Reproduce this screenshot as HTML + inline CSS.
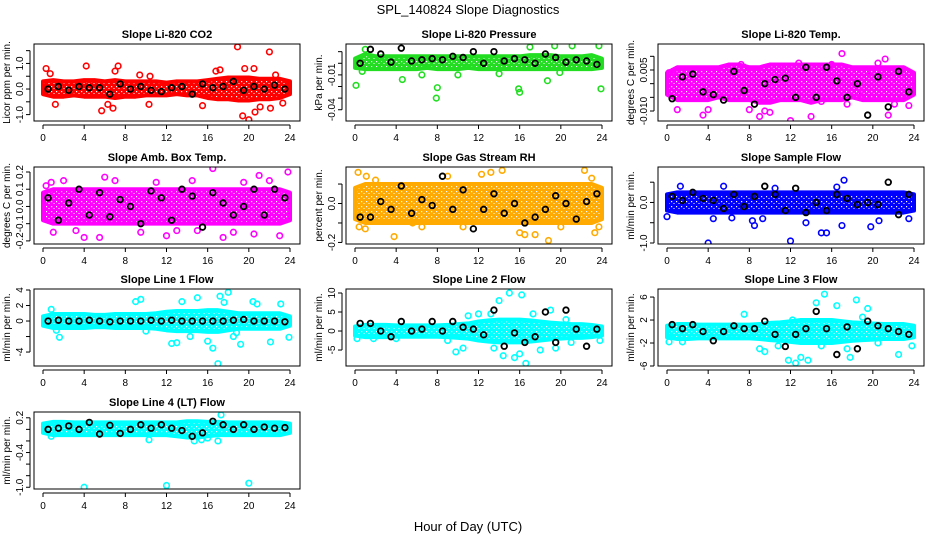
<!DOCTYPE html>
<html><head><meta charset="utf-8"><style>
html,body{margin:0;padding:0;background:#fff}
svg{display:block;font-family:"Liberation Sans",sans-serif}
</style></head><body>
<svg id="chart" width="936" height="540" viewBox="0 0 936 540" xmlns="http://www.w3.org/2000/svg">
<defs id="defs"></defs>
<text x="468" y="14" font-size="13" text-anchor="middle">SPL_140824  Slope Diagnostics</text>
<text x="468" y="531" font-size="13" text-anchor="middle">Hour of Day (UTC)</text>
</svg>
<script>
const hours=[0,1,2,3,4,5,6,7,8,9,10,11,12,13,14,15,16,17,18,19,20,21,22,23,24];
const blackX=[0.5,1.5,2.5,3.5,4.5,5.5,6.5,7.5,8.5,9.5,10.5,11.5,12.5,13.5,14.5,15.5,16.5,17.5,18.5,19.5,20.5,21.5,22.5,23.5];
const xTicks=[0,4,8,12,16,20,24];

const titles=["Slope Li-820 CO2","Slope Li-820 Pressure","Slope Li-820 Temp.","Slope Amb. Box Temp.","Slope Gas Stream RH","Slope Sample Flow","Slope Line 1 Flow","Slope Line 2 Flow","Slope Line 3 Flow","Slope Line 4 (LT) Flow"];
const yTitles=["Licor ppm per min.","kPa per min.","degrees C per min.","degrees C per min.","percent per min.","ml/min per min.","ml/min per min.","ml/min per min.","ml/min per min.","ml/min per min."];
const yRanges=[[-1.25,1.76],[-0.0497,0.0166],[-0.01365,0.0145],[-0.218,0.229],[-0.208,0.1875],[-1.025,0.875],[-5.8,4.13],[-9.2,11.05],[-6.0,7.4],[-1.03,0.30]];
const yTickVals=[[-1,-0.5,0,0.5,1,1.5],[-0.04,-0.03,-0.02,-0.01,0,0.01],[-0.01,-0.005,0,0.005,0.01],[-0.2,-0.1,0,0.1,0.2],[-0.2,-0.1,0,0.1],[-1,-0.5,0,0.5],[-4,-2,0,2,4],[-5,0,5,10],[-6,-2,2,6],[-1,-0.8,-0.6,-0.4,-0.2,0,0.2]];
const yTickLabels=[["-1.0","","0.0","","1.0",""],["-0.04","","","-0.01","",""],["-0.010","","","0.005",""],["-0.2","-0.1","0.0","0.1","0.2"],["-0.2","","0.0",""],["-1.0","","0.0",""],["-4","","0","2","4"],["-5","0","5","10"],["-6","-2","2","6"],["-1.0","","","-0.4","","","0.2"]];
const colors=["#ff0000","#22dd22","#ff00ff","#ff00ff","#ffaa00","#0000ff","#00ffff","#00ffff","#00ffff","#00ffff"];

const bandLo=[
[-0.2,-0.3,-0.3,-0.25,-0.3,-0.3,-0.3,-0.35,-0.3,-0.3,-0.25,-0.25,-0.25,-0.2,-0.25,-0.25,-0.35,-0.4,-0.4,-0.45,-0.45,-0.4,-0.4,-0.35,-0.2],
[-0.004,-0.005,-0.005,-0.005,-0.005,-0.005,-0.005,-0.004,-0.005,-0.005,-0.005,-0.004,-0.005,-0.005,-0.005,-0.005,-0.005,-0.005,-0.005,-0.005,-0.005,-0.005,-0.005,-0.005,-0.004],
[-0.004,-0.006,-0.006,-0.006,-0.006,-0.005,-0.006,-0.006,-0.006,-0.007,-0.007,-0.006,-0.006,-0.006,-0.007,-0.006,-0.006,-0.006,-0.005,-0.006,-0.006,-0.006,-0.006,-0.006,-0.004],
[-0.08,-0.1,-0.1,-0.1,-0.1,-0.1,-0.1,-0.1,-0.1,-0.1,-0.1,-0.1,-0.1,-0.1,-0.1,-0.1,-0.1,-0.1,-0.1,-0.1,-0.1,-0.1,-0.1,-0.1,-0.08],
[-0.08,-0.1,-0.1,-0.1,-0.1,-0.1,-0.1,-0.1,-0.1,-0.1,-0.1,-0.1,-0.1,-0.1,-0.1,-0.1,-0.1,-0.1,-0.1,-0.1,-0.1,-0.1,-0.1,-0.1,-0.08],
[-0.2,-0.25,-0.25,-0.25,-0.25,-0.25,-0.25,-0.25,-0.25,-0.25,-0.25,-0.25,-0.25,-0.25,-0.25,-0.25,-0.25,-0.25,-0.25,-0.25,-0.25,-0.25,-0.25,-0.25,-0.2],
[-0.6,-0.9,-0.9,-0.9,-0.9,-0.8,-0.8,-0.9,-0.9,-0.9,-0.9,-1.0,-1.2,-1.3,-1.3,-1.3,-1.4,-1.4,-1.2,-1.0,-1.0,-1.0,-1.0,-1.0,-0.6],
[-1.2,-1.6,-1.6,-1.6,-1.5,-1.5,-1.5,-1.5,-1.5,-1.6,-1.8,-2.0,-2.5,-2.8,-3.0,-3.0,-3.0,-2.8,-2.5,-2.2,-2.0,-1.8,-1.8,-1.6,-1.2],
[-1.0,-1.3,-1.3,-1.2,-1.2,-1.2,-1.2,-1.2,-1.2,-1.3,-1.5,-1.6,-1.8,-2.0,-2.0,-2.0,-2.0,-1.8,-1.6,-1.5,-1.4,-1.3,-1.3,-1.3,-1.0],
[-0.06,-0.1,-0.1,-0.1,-0.1,-0.1,-0.1,-0.1,-0.1,-0.1,-0.1,-0.1,-0.1,-0.12,-0.14,-0.14,-0.12,-0.1,-0.1,-0.1,-0.1,-0.1,-0.1,-0.1,-0.06]];
const bandHi=[
[0.3,0.35,0.3,0.3,0.35,0.35,0.3,0.35,0.3,0.3,0.3,0.3,0.25,0.3,0.3,0.3,0.35,0.4,0.45,0.45,0.45,0.4,0.4,0.4,0.3],
[0.004,0.008,0.006,0.006,0.006,0.006,0.006,0.006,0.006,0.006,0.006,0.006,0.006,0.006,0.006,0.006,0.006,0.007,0.007,0.007,0.006,0.006,0.006,0.007,0.004],
[0.004,0.006,0.006,0.006,0.006,0.006,0.007,0.007,0.006,0.006,0.007,0.007,0.007,0.007,0.007,0.007,0.007,0.007,0.006,0.006,0.006,0.006,0.006,0.006,0.004],
[0.08,0.1,0.1,0.1,0.1,0.1,0.1,0.1,0.1,0.1,0.1,0.1,0.1,0.1,0.1,0.1,0.1,0.1,0.1,0.1,0.1,0.1,0.1,0.1,0.08],
[0.08,0.1,0.1,0.1,0.1,0.1,0.1,0.1,0.1,0.1,0.1,0.1,0.1,0.1,0.1,0.1,0.1,0.1,0.1,0.1,0.1,0.1,0.1,0.1,0.08],
[0.2,0.25,0.25,0.25,0.25,0.25,0.25,0.25,0.25,0.25,0.25,0.25,0.25,0.25,0.25,0.25,0.25,0.25,0.25,0.25,0.25,0.25,0.25,0.25,0.2],
[0.6,0.9,0.9,0.9,0.9,0.8,0.8,0.9,0.9,0.9,0.9,1.0,1.2,1.3,1.3,1.3,1.4,1.4,1.2,1.0,1.0,1.0,1.0,1.0,0.6],
[1.2,1.6,1.6,1.6,1.5,1.5,1.5,1.5,1.5,1.6,1.8,2.0,2.5,2.8,3.0,3.0,3.0,2.8,2.5,2.2,2.0,1.8,1.8,1.6,1.2],
[1.0,1.3,1.3,1.2,1.2,1.2,1.2,1.2,1.2,1.3,1.5,1.6,1.8,2.0,2.0,2.0,2.0,1.8,1.6,1.5,1.4,1.3,1.3,1.3,1.0],
[0.1,0.13,0.13,0.12,0.12,0.12,0.12,0.12,0.12,0.12,0.12,0.12,0.12,0.12,0.14,0.14,0.13,0.13,0.12,0.12,0.12,0.12,0.12,0.12,0.1]];

const outX=[
[0.3,0.7,1.2,4.2,5.7,6.3,6.8,7.3,7.0,9.4,10.3,15.5,16.8,17.2,18.9,19.4,19.6,19.9,20.0,20.5,20.6,21.1,22.0,22.1,22.6,23.3,10.4],
[0.1,4.0,4.6,7.9,8.0,12.0,15.9,16.0,18.7,19.9,20.0,23.9,6.5,10,14,2.5,0.7,17.0,19.4,21.1,23.7,1.0],
[0.2,0.6,1.0,3.5,4.0,7.2,7.5,8.0,9.0,9.5,10.0,12.0,12.8,14.0,15.0,16.0,17.0,17.5,19.0,19.8,20.5,21.2,21.5,22.1,23.5,11.5],
[0.3,1.0,2.0,3.2,4.0,5.5,7.0,9.5,11.0,13.0,14.5,16.5,17.5,19.5,20.5,22,23,23.8,0.8,6,12,18.5,21,15],
[0.3,1.1,3.8,0.4,1.0,6.5,9.0,12.3,13.2,14.3,16.0,16.5,17.5,18.8,22.3,23.0,23.3,23.7,20.0,10.5,5.6,2.0],
[0,4.0,4.5,1.3,8.3,8.5,12.0,15.0,15.5,17.0,17.2,19.8,5.5,9.3,13.5,6.3,23.5,20.6,10.5,16.5],
[0.8,1.3,1.6,9.0,9.5,10.0,13.5,13.0,14.3,15.0,16.0,16.5,17.0,17.2,17.6,18.0,18.5,19.2,20.4,22.1,23.1,23.9,12.5,20.8,18.8],
[0.2,1.8,4.0,4.5,9.0,9.8,10.5,11.0,12.0,13.5,14.0,15.0,15.5,16.0,16.2,16.6,17.3,18.0,19.0,19.5,20.5,21.0,23.8,14.4,13.2],
[0.2,1.5,7.5,9.0,9.5,10.8,11.8,12.5,13.0,13.7,14.5,14.8,15.0,15.3,16.5,17.5,17.8,19.0,19.5,20.5,22.5,23.8,12.2,18.4],
[4.0,12.0,20.0,17.3,17.0,15.4,16.0,0.8,10.3,14.7]];
const outY=[
[0.8,0.6,-0.6,0.9,-0.85,-0.6,-0.75,0.9,0.7,0.55,-0.6,-0.65,0.7,0.75,1.65,-1.05,0.8,-0.35,-1.2,0.8,-0.9,-0.7,1.45,-0.75,0.55,-0.55,0.5],
[-0.019,-0.057,-0.014,-0.03,-0.021,-0.058,-0.022,-0.025,-0.015,-0.008,-0.058,-0.022,-0.01,-0.01,-0.009,0.003,-0.007,0.014,0.015,0.015,0.015,0.012],
[0.004,0.0045,-0.0095,-0.0115,-0.0095,0.007,0.006,-0.0095,-0.012,-0.01,-0.0105,-0.0135,0.0075,-0.012,-0.0065,0.007,0.011,-0.0075,-0.0035,0.0045,0.0075,0.009,-0.0115,-0.0075,-0.008,0.006],
[0.12,-0.15,0.15,-0.14,-0.18,-0.18,0.15,-0.15,0.14,-0.14,0.15,0.22,-0.18,0.14,-0.16,0.15,-0.17,0.2,0.14,0.17,-0.17,-0.15,0.18,-0.14],
[0.16,0.14,-0.17,-0.12,-0.13,-0.12,0.14,0.15,0.16,0.17,-0.15,-0.16,-0.16,-0.19,0.17,0.13,-0.15,-0.12,-0.12,-0.12,-0.1,0.12],
[-0.35,-1.0,-0.4,0.4,-0.45,-0.57,-0.95,-0.75,-0.75,-0.57,0.55,-0.6,0.4,-0.4,-0.5,-0.38,-0.4,-0.45,0.35,0.38],
[1.5,-1.2,-2.1,2.5,2.8,-1.3,2.5,-2.8,-2.0,3.0,-2.6,-3.5,-5.5,3.2,2.4,3.7,-2.0,-3.0,2.5,-2.7,2.2,-2.1,-2.9,2.2,-1.5],
[-2,-2,-2,2.5,-2.5,-5.5,-4.5,4,4.5,-4.5,8,10,-7,-6,9.5,-8.5,4.5,-5,5.5,-4.5,3,-3,-2.5,-6.5,4.5],
[-1.8,-1.8,3,-3,-3.5,-2.5,-5,-5.5,-4.5,-5,5,-7,-2.5,6.5,4.5,-3,-4.5,2.5,4,-2,-4,-2.5,2,5.5],
[-1.0,-0.97,-0.93,0.25,-0.2,-0.18,-0.15,-0.12,-0.18,-0.2]];

const blackY=[
[0,0.1,-0.05,0.1,0.05,0.05,-0.2,0.2,0,0.1,-0.05,-0.1,0.05,0.1,-0.2,0.2,0.05,0.1,0.3,-0.05,0.1,0,0.15,0],
[0.0,0.012,0.008,0.001,0.013,0.002,0.003,0.004,0.003,0.006,0.005,0.01,0.0,0.01,0.002,0.004,0.003,0.0,0.008,0.005,0.001,0.003,0.002,-0.001],
[-0.0055,0.0025,0.0035,-0.003,-0.004,-0.006,0.0045,-0.0025,-0.0075,0.0,0.0015,0.002,-0.005,0.006,-0.005,0.006,0.001,-0.005,0.0,-0.0115,0.0025,-0.0085,0.0045,-0.003],
[0.05,-0.08,0.02,0.1,-0.05,0.08,-0.06,0.04,0.0,-0.1,0.09,0.05,-0.08,0.1,0.06,-0.12,0.08,0.02,-0.05,0.0,0.1,-0.05,0.1,0.05],
[-0.07,-0.07,0.01,-0.03,0.09,-0.05,0.02,-0.01,0.14,-0.03,0.07,-0.13,-0.03,0.05,-0.05,0.0,-0.1,-0.07,-0.03,0.04,0.0,-0.08,0.01,0.05],
[0.15,0.05,0.25,0.1,0.05,-0.15,0.2,-0.1,0.15,0.4,0.2,-0.2,0.35,-0.25,0.0,-0.2,0.2,0.1,-0.05,0.0,-0.05,0.5,-0.3,0.2],
[0,0.1,0,0,0.1,0,-0.1,0,0,0,0.1,0,0.1,0,0,0,0,0,0.1,0.2,0,0,0,-0.1],
[2,2,0,-1.5,2.5,0,0.5,2.5,0,2.5,1,0.5,-1,5.5,-4,-0.5,-3,-1.5,5,-3,5.5,0.5,-4,0.5],
[1.2,0.5,1.2,0,-1.6,0,1,0.5,0.5,1.8,-0.5,-2.6,-0.5,0.5,3.5,0.5,-4,0.8,-3,1.8,1,0.5,0,-0.5],
[0.0,0.02,0.06,0.0,0.12,-0.08,0.07,-0.07,0.0,0.08,0.02,0.08,0.02,-0.02,-0.12,-0.06,0.14,0.08,0.0,0.08,0.0,0.04,0.02,0.03]];

const NS="http://www.w3.org/2000/svg";
const svg=document.getElementById('chart');
const defs=document.getElementById('defs');
const colX=[34,346,658], rowY=[44,167,289,412], BW=266, BH=77;
function mk(tag,attrs,parent){const e=document.createElementNS(NS,tag);for(const k in attrs)e.setAttribute(k,attrs[k]);parent.appendChild(e);return e;}

for(let p=0;p<10;p++){
  const bx=colX[p%3], by=rowY[Math.floor(p/3)];
  const [ymin,ymax]=yRanges[p];
  const sx=v=>bx+9+v*(247/24);
  const sy=v=>by+BH-(v-ymin)/(ymax-ymin)*BH;
  // speckle pattern
  const pat=mk('pattern',{id:'pat'+p,width:5,height:5,patternUnits:'userSpaceOnUse'},defs);
  mk('rect',{x:0,y:0,width:5,height:5,fill:colors[p]},pat);
  mk('rect',{x:1,y:1,width:1.2,height:1.2,fill:'#fff'},pat);
  mk('rect',{x:3.5,y:3,width:1,height:1,fill:'#fff'},pat);
  const g=mk('g',{},svg);
  
  
  const t=mk('text',{x:bx+BW/2,y:by-6,'font-size':11,'font-weight':'bold','text-anchor':'middle'},g);
  t.textContent=titles[p];
  
  
  const clip=mk('clipPath',{id:'c'+p},g);
  mk('rect',{x:bx,y:by,width:BW,height:BH},clip);
  const pg=mk('g',{'clip-path':'url(#c'+p+')'},g);
  let pts=hours.map((h,i)=>sx(h)+','+sy(bandHi[p][i]));
  pts=pts.concat(hours.slice().reverse().map((h,j)=>sx(h)+','+sy(bandLo[p][hours.length-1-j])));
  const band=mk('polygon',{points:pts.join(' '),fill:'url(#pat'+p+')',stroke:colors[p],'stroke-width':4,'stroke-linejoin':'round'},pg);
  
  
  outX[p].forEach((x,i)=>{
    const c=mk('circle',{cx:sx(x),cy:sy(outY[p][i]),r:2.8,fill:'none',stroke:colors[p],'stroke-width':1.6},pg);
    
    
  });
  blackX.forEach((x,i)=>{
    const c=mk('circle',{cx:sx(x),cy:sy(blackY[p][i]),r:2.8,fill:'none',stroke:'#000','stroke-width':1.8},pg);
    
    
  });
  const box=mk('rect',{x:bx,y:by,width:BW,height:BH,fill:'none',stroke:'#000','stroke-width':1},g);
  
  
  mk('line',{x1:sx(0),x2:sx(24),y1:by+BH+4,y2:by+BH+4,stroke:'#000'},g);
  xTicks.forEach(v=>{
    mk('line',{x1:sx(v),x2:sx(v),y1:by+BH+4,y2:by+BH+8,stroke:'#000'},g);
    const tx=mk('text',{x:sx(v),y:by+BH+20,'font-size':10,'text-anchor':'middle'},g);
    tx.textContent=v;
    
    
  });
  const yt=yTickVals[p];
  mk('line',{x1:bx-4,x2:bx-4,y1:sy(yt[0]),y2:sy(yt[yt.length-1]),stroke:'#000'},g);
  yt.forEach((v,i)=>{
    mk('line',{x1:bx-8,x2:bx-4,y1:sy(v),y2:sy(v),stroke:'#000'},g);
    if(yTickLabels[p][i]){
      const y=sy(v);
      const tx=mk('text',{x:bx-11,y:y,'font-size':10,'text-anchor':'middle',transform:'rotate(-90 '+(bx-11)+' '+y+')'},g);
      tx.textContent=yTickLabels[p][i];
      
      
    }
  });
  const ym=by+BH/2;
  const yl=mk('text',{x:bx-24,y:ym,'font-size':10,'text-anchor':'middle',transform:'rotate(-90 '+(bx-24)+' '+ym+')'},g);
  yl.textContent=yTitles[p];
  
  
}
</script>
</body></html>
